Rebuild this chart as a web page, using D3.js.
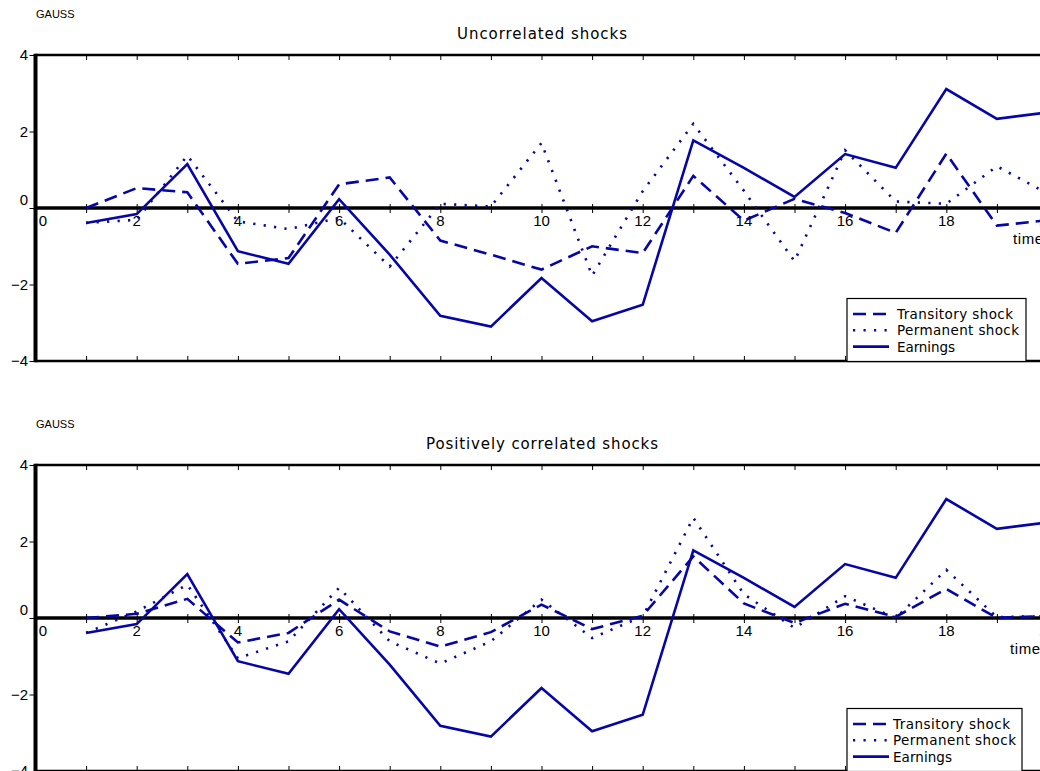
<!DOCTYPE html>
<html>
<head>
<meta charset="utf-8">
<script src="https://cdn.jsdelivr.net/npm/d3@7"></script>
<style>
  html, body { margin: 0; padding: 0; background: #fff; }
  svg { display: block; }
  text { font-family: "Liberation Sans", Arial, sans-serif; fill: #000; }
</style>
</head>
<body>
<svg id="chart" width="1040" height="771"></svg>
<script>
// ---- data ----
const time = [1,2,3,4,5,6,7,8,9,10,11,12,13,14,15,16,17,18,19,20];
const xTicks = [0,2,4,6,8,10,12,14,16,18,20];
const yTicks = [4,2,0,-2,-4];
const seriesNames = ["Transitory shock", "Permanent shock", "Earnings"];

const earnings = [-0.39,-0.16,1.15,-1.13,-1.46,0.23,-1.22,-2.82,-3.10,-1.83,-2.96,-2.53,1.77,1.05,0.29,1.41,1.05,3.11,2.33,2.50];

const transitoryUncorr = [0.00,0.52,0.41,-1.46,-1.31,0.62,0.80,-0.85,-1.22,-1.61,-1.00,-1.18,0.84,-0.33,0.24,-0.13,-0.65,1.42,-0.46,-0.32];
const permanentUncorr  = [-0.39,-0.31,1.37,-0.35,-0.55,-0.26,-1.53,0.11,0.04,1.70,-1.77,0.44,2.20,0.45,-1.39,1.51,0.17,0.11,1.09,0.38];

const transitoryCorr = [0.00,0.11,0.50,-0.64,-0.39,0.48,-0.35,-0.75,-0.37,0.35,-0.29,0.06,1.61,0.38,-0.13,0.37,0.03,0.76,0.00,0.05];
const permanentCorr  = [-0.39,0.17,0.87,-1.05,-0.61,0.79,-0.61,-1.19,-0.61,0.48,-0.52,0.04,2.62,0.62,-0.26,0.57,0.00,1.26,0.02,0.05];

const panels = [
  { title: "Uncorrelated shocks", titleLen: 170, transitory: transitoryUncorr, permanent: permanentUncorr, earnings: earnings,
    top: 55, legendW: 179, textX: 50, textLens: [116, 122, 58], timeX: 1013 },
  { title: "Positively correlated shocks", titleLen: 232, transitory: transitoryCorr, permanent: permanentCorr, earnings: earnings,
    top: 465, legendW: 175, textX: 46, textLens: [117, 123, 59], timeX: 1010 }
];

// ---- drawing ----
const svg = d3.select("#chart");
const lineColor = "#0505a8";
const left = 35.5;
const plotH = 306;
const x = d3.scaleLinear().domain([0, 21]).range([left, left + 21 * 50.6]);
const styles = [
  { dash: "13,7", width: 2.6 },
  { dash: "2.2,8.3", width: 2.6 },
  { dash: null, width: 2.6 }
];

panels.forEach(p => {
  const g = svg.append("g");
  const y = d3.scaleLinear().domain([-4, 4]).range([p.top + plotH, p.top]);
  const y0 = y(0);

  // header texts
  g.append("text").attr("x", 36).attr("y", p.top - 37.5)
    .attr("font-size", 11).text("GAUSS");
  g.append("text").attr("x", 542).attr("y", p.top - 16)
    .attr("text-anchor", "middle").attr("font-size", 15)
    .attr("textLength", p.titleLen).attr("lengthAdjust", "spacing")
    .style("font-family", "'DejaVu Sans', sans-serif")
    .text(p.title);

  // borders: top and bottom
  g.append("line").attr("x1", left).attr("x2", 1040).attr("y1", y(4)).attr("y2", y(4))
    .attr("stroke", "#000").attr("stroke-width", 2.5);
  g.append("line").attr("x1", left).attr("x2", 1040).attr("y1", y(-4)).attr("y2", y(-4))
    .attr("stroke", "#000").attr("stroke-width", 2.5);

  // ticks on top/bottom borders and zero line (every integer)
  const ints = d3.range(1, 21);
  const topAxis = d3.axisBottom(x).tickValues(ints).tickSize(5).tickFormat("");
  g.append("g").attr("transform", `translate(0,${y(4)})`).call(topAxis)
    .call(a => a.select(".domain").remove())
    .selectAll("line").attr("stroke", "#000").attr("stroke-width", 1);
  const botAxis = d3.axisTop(x).tickValues(ints).tickSize(5).tickFormat("");
  g.append("g").attr("transform", `translate(0,${y(-4)})`).call(botAxis)
    .call(a => a.select(".domain").remove())
    .selectAll("line").attr("stroke", "#000").attr("stroke-width", 1);

  // zero line with ticks
  g.append("line").attr("x1", left).attr("x2", 1040).attr("y1", y0).attr("y2", y0)
    .attr("stroke", "#000").attr("stroke-width", 3.5);
  const zeroAxis = d3.axisBottom(x).tickValues(ints).tickSize(5).tickFormat("");
  g.append("g").attr("transform", `translate(0,${y0 - 4})`).call(zeroAxis)
    .call(a => a.select(".domain").remove())
    .selectAll("line").attr("stroke", "#000").attr("stroke-width", 1).attr("y2", 9);

  // x tick labels
  g.selectAll(".xl").data(xTicks).enter().append("text")
    .attr("x", d => d === 0 ? x(d) + 7.5 : x(d))
    .attr("y", y0 + 18)
    .attr("text-anchor", "middle").attr("font-size", 15)
    .text(d => d);
  g.append("text").attr("x", p.timeX).attr("y", y0 + 36).attr("font-size", 15)
    .attr("letter-spacing", 0.6).text("time");

  // y axis
  const yAxis = d3.axisLeft(y).tickValues(yTicks).tickSize(6).tickFormat("");
  g.append("g").attr("transform", `translate(${left},0)`).call(yAxis)
    .call(a => a.select(".domain").remove())
    .selectAll("line").attr("stroke", "#000").attr("stroke-width", 1);
  g.selectAll(".yl").data(yTicks).enter().append("text")
    .attr("x", 28).attr("y", d => y(d) + (d === 0 ? -3 : 5))
    .attr("text-anchor", "end").attr("font-size", 15)
    .text(d => d < 0 ? "\u2212" + Math.abs(d) : d);
  g.append("line").attr("x1", left).attr("x2", left).attr("y1", y(4) - 1.2).attr("y2", y(-4) + 1.2)
    .attr("stroke", "#000").attr("stroke-width", 4);

  // series
  const lineGen = d3.line().x((d, i) => x(time[i])).y(d => y(d));
  [p.transitory, p.permanent, p.earnings].forEach((vals, k) => {
    const path = g.append("path").datum(vals).attr("d", lineGen)
      .attr("fill", "none").attr("stroke", lineColor)
      .attr("stroke-width", styles[k].width)
      .attr("stroke-linejoin", "miter");
    if (styles[k].dash) path.attr("stroke-dasharray", styles[k].dash);
  });

  // legend
  const lx = 847, ly = p.top + plotH - 62.5;
  const lg = g.append("g");
  lg.append("rect").attr("x", lx).attr("y", ly).attr("width", p.legendW).attr("height", 63)
    .attr("fill", "#fff").attr("stroke", "#000").attr("stroke-width", 1.2);
  seriesNames.forEach((name, k) => {
    const ry = ly + 15.5 + k * 16.3;
    const ln = lg.append("line").attr("x1", lx + 6).attr("x2", lx + 42).attr("y1", ry).attr("y2", ry)
      .attr("stroke", lineColor).attr("stroke-width", styles[k].width);
    if (styles[k].dash) ln.attr("stroke-dasharray", styles[k].dash);
    lg.append("text").attr("x", lx + p.textX).attr("y", ry + 5)
      .attr("font-size", 13.5)
      .attr("textLength", p.textLens[k]).attr("lengthAdjust", "spacing")
      .style("font-family", "'DejaVu Sans', sans-serif")
      .text(name);
  });
});
</script>
</body>
</html>
